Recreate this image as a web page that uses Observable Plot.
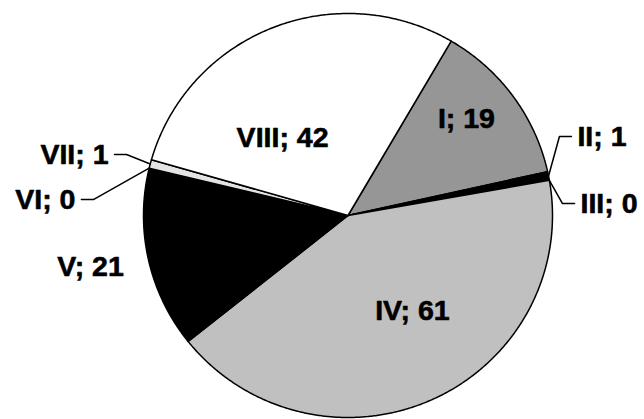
<!DOCTYPE html>
<html>
<head>
<meta charset="utf-8">
<script src="https://cdn.jsdelivr.net/npm/d3@7"></script>
<script src="https://cdn.jsdelivr.net/npm/@observablehq/plot@0.6"></script>
<style>
  html, body { margin: 0; padding: 0; background: #ffffff; }
  #chart svg { display: block; }
</style>
</head>
<body>
<div id="chart"></div>
<script>
// ---- data ----
const categories = ["I", "II", "III", "IV", "V", "VI", "VII", "VIII"];
const values = [19, 1, 0, 61, 21, 0, 1, 42];
const fills = ["#969696", "#000000", "#ffffff", "#c0c0c0", "#000000", "#ffffff", "#e4e4e4", "#ffffff"];

// ---- label placement (in pie-radius units, y up) ----
const labelX = [0.579, 1.122, 1.137, 0.315, -1.259, -1.333, -1.171, -0.320];
const labelY = [0.480, 0.391, 0.059, -0.470, -0.252, 0.079, 0.302, 0.386];
const labelAnchor = ["middle", "start", "start", "middle", "middle", "end", "end", "middle"];
const hasLeader = [false, true, true, false, false, true, true, false];

const startDeg = 30.3;
const W = 644, H = 419;
const cx = 347.5, cy = 215, rx = 204.5, ry = 202;

const pie = d3.pie().sort(null).value(d => d)
  .startAngle(startDeg * Math.PI / 180)
  .endAngle(startDeg * Math.PI / 180 + 2 * Math.PI);
const arcs = pie(values);

// slice outlines: center -> arc -> center
const slicePts = [];
arcs.forEach((a, i) => {
  const span = a.endAngle - a.startAngle;
  const n = Math.max(1, Math.ceil(span / (0.4 * Math.PI / 180)));
  slicePts.push({k: i, x: 0, y: 0, fill: fills[i]});
  for (let j = 0; j <= n; j++) {
    const t = a.startAngle + span * j / n;
    slicePts.push({k: i, x: Math.sin(t), y: Math.cos(t), fill: fills[i]});
  }
  slicePts.push({k: i, x: 0, y: 0, fill: fills[i]});
});

// labels
const labels = categories.map((c, i) => ({
  i, text: `${c}; ${values[i]}`, x: labelX[i], y: labelY[i], anchor: labelAnchor[i]
}));

// leader lines
const leaderPts = [];
arcs.forEach((a, i) => {
  if (!hasLeader[i]) return;
  const mid = (a.startAngle + a.endAngle) / 2;
  const side = labelAnchor[i] === "start" ? -1 : 1;
  leaderPts.push({k: i, x: Math.sin(mid), y: Math.cos(mid)});
  leaderPts.push({k: i, x: labelX[i] + side * 18 / rx, y: labelY[i]});
  leaderPts.push({k: i, x: labelX[i] + side * 6 / rx, y: labelY[i]});
});

const font = "'Liberation Sans', Arial, Helvetica, sans-serif";
const textOpts = (anchor) => ({
  x: "x", y: "y", text: "text", textAnchor: anchor,
  fontSize: 28.5, fontWeight: "bold", fontFamily: font, fill: "#000",
  stroke: "#000", strokeWidth: 0.6
});

const chart = Plot.plot({
  width: W, height: H,
  marginTop: 0, marginRight: 0, marginBottom: 0, marginLeft: 0,
  style: {background: "#ffffff", fontFamily: font},
  x: {domain: [-cx / rx, (W - cx) / rx], axis: null},
  y: {domain: [-(H - cy) / ry, cy / ry], axis: null},
  color: {type: "identity"},
  marks: [
    Plot.line(slicePts, {
      x: "x", y: "y", z: "k", fill: "fill", stroke: "#000",
      strokeWidth: 1.5, strokeLinejoin: "round", curve: "linear"
    }),
    Plot.line(leaderPts, {
      x: "x", y: "y", z: "k", stroke: "#000", strokeWidth: 1.5, fill: "none"
    }),
    Plot.text(labels.filter(d => d.anchor === "middle"), textOpts("middle")),
    Plot.text(labels.filter(d => d.anchor === "start"), textOpts("start")),
    Plot.text(labels.filter(d => d.anchor === "end"), textOpts("end"))
  ]
});
document.getElementById("chart").appendChild(chart);
</script>
</body>
</html>
